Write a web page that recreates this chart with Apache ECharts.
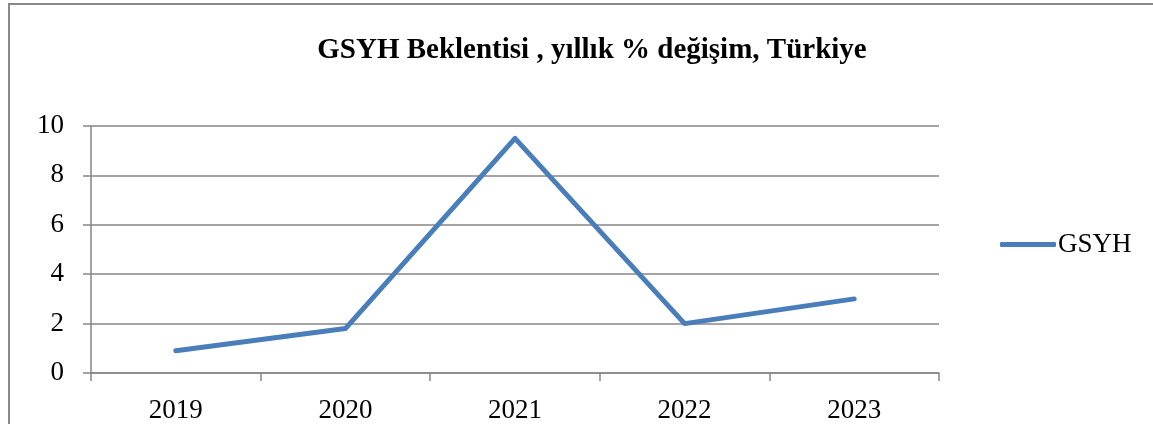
<!DOCTYPE html>
<html>
<head>
<meta charset="utf-8">
<script src="https://cdn.jsdelivr.net/npm/echarts@6/dist/echarts.min.js"></script>
<style>
html,body{margin:0;padding:0;background:#fff;}
#chart{width:1153px;height:424px;}
</style>
</head>
<body>
<div id="chart"></div>
<script>
var titleText = 'GSYH Beklentisi , yıllık % değişim, Türkiye';
var categories = ['2019', '2020', '2021', '2022', '2023'];
var seriesName = 'GSYH';
var gsyh = [0.9, 1.8, 9.5, 2.0, 3.0];
var yMin = 0, yMax = 10, yInterval = 2;

var serif = '"Palatino Linotype","Book Antiqua",Palatino,"Liberation Serif","DejaVu Serif",serif';
var gridColor = '#868686';
var lineColor = '#4A7EBB';

var chart = echarts.init(document.getElementById('chart'));
chart.setOption({
  backgroundColor: '#fff',
  animation: false,
  graphic: [{
    type: 'rect',
    shape: {x: 9, y: 4, width: 1200, height: 500},
    style: {fill: 'none', stroke: '#898989', lineWidth: 2},
    silent: true, z: -1
  }],
  title: {
    text: titleText,
    left: 587, top: 31, textAlign: 'center',
    textStyle: {fontFamily: serif, fontWeight: 'bold', fontSize: 29, color: '#000'}
  },
  legend: {
    data: [seriesName],
    left: 1000, top: 231,
    padding: 0,
    icon: 'roundRect',
    itemWidth: 56, itemHeight: 5,
    itemGap: 2,
    textStyle: {fontFamily: serif, fontSize: 27, color: '#000', padding: [0,0,0,-3]}
  },
  grid: {left: 91, top: 126, right: 214, bottom: 51, containLabel: false},
  xAxis: {
    type: 'category',
    data: categories,
    boundaryGap: true,
    axisLine: {show: true, lineStyle: {color: gridColor, width: 1.5}},
    axisTick: {show: true, length: 8, inside: false, lineStyle: {color: gridColor, width: 1.5}},
    axisLabel: {fontFamily: serif, fontSize: 27, color: '#000', margin: 24}
  },
  yAxis: {
    type: 'value',
    min: yMin, max: yMax, interval: yInterval,
    axisLine: {show: true, lineStyle: {color: gridColor, width: 1.5}},
    axisTick: {show: true, length: 8, lineStyle: {color: gridColor, width: 1.5}},
    axisLabel: {fontFamily: serif, fontSize: 27, color: '#000', margin: 27},
    splitLine: {show: true, lineStyle: {color: gridColor, width: 1.5}}
  },
  series: [{
    name: seriesName,
    type: 'line',
    data: gsyh,
    showSymbol: false,
    symbol: 'none',
    itemStyle: {color: lineColor},
    lineStyle: {color: lineColor, width: 5, cap: 'round', join: 'round'}
  }]
});
</script>
</body>
</html>
